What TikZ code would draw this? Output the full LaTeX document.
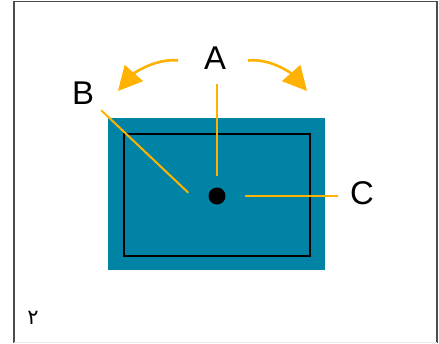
\documentclass[tikz,border=0pt]{standalone}
\usepackage{fontspec}
\setmainfont{Liberation Sans}
\newfontfamily\arabicfont[Script=Arabic]{DejaVu Sans}
\TeXXeTstate=1
\usetikzlibrary{arrows.meta}
\definecolor{panelteal}{RGB}{0,131,165}
\definecolor{leadgold}{RGB}{255,178,0}

\begin{document}
\begin{tikzpicture}[x=1bp, y=-1bp,
	lead/.style={draw=leadgold, line width=2bp},
	swing/.style={draw=leadgold, line width=2.6bp,
				-{Triangle[length=24bp, width=24bp]}},
	letter/.style={inner sep=0, font=\fontsize{33}{33}\selectfont},
	pivot/.style={circle, inner sep=0, minimum size=17bp, fill=black}]
	\useasboundingbox (0,0) rectangle (439,343);
	\fill[white] (0,0) rectangle (439,343);
	\draw[black!70, line width=1.3bp] (14,343) -- (14,1.5) -- (437,1.5) -- (437,343);
	\draw[black!8] (14,342.5) -- (437,342.5);
	\fill[panelteal] (108,118) rectangle (325,270);
	\draw[line width=2bp] (124,134) rectangle (309.5,255.5);
	\node[pivot] (dot) at (217,196) {};
	\node[letter] (A) at (215,58) {A};
	\node[letter] (B) at (83,93) {B};
	\node[letter] (C) at (362,193) {C};
	\node[inner sep=0] (page) at (33,318) {\arabicfont\fontsize{21}{21}\selectfont\beginR ٢\endR};
	\coordinate (Bend) at (188.3,192.7);
	\coordinate (swingL) at (178,60.5);
	\coordinate (swingR) at (248,60.5);
	\coordinate (tipL) at (118,91);
	\coordinate (tipR) at (307,91);
	\draw[lead, shorten <=14bp, shorten >=11bp] (A.south -| dot) -- (dot.north);
	\draw[lead, shorten <=25bp] (B.center) -- (Bend);
	\draw[lead, shorten <=19bp, shorten >=12bp] (dot.east) -- (dot.east -| C.west);
	\draw[swing] (swingL) .. controls (155,58) and (133,74) .. (tipL);
	\draw[swing] (swingR) .. controls (271,58) and (292,74) .. (tipR);
\end{tikzpicture}
\end{document}
